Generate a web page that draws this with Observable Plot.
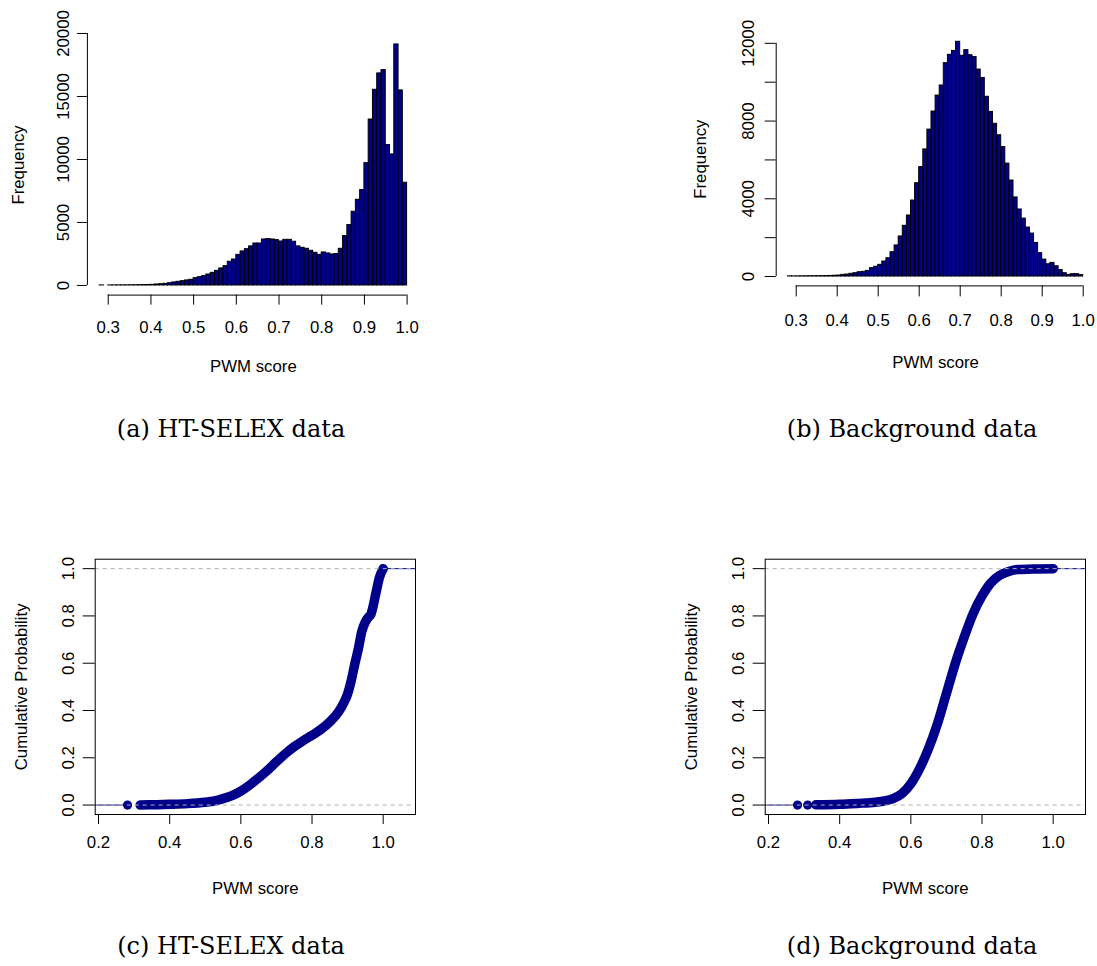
<!DOCTYPE html>
<html>
<head>
<meta charset="utf-8">
<script src="https://cdn.jsdelivr.net/npm/d3@7"></script>
<script src="https://cdn.jsdelivr.net/npm/@observablehq/plot@0.6"></script>
<style>
  body { margin: 0; background: #fff; }
  #page { position: relative; width: 1097px; height: 966px; overflow: hidden; background: #fff; }
  .panel { position: absolute; }
  .panel svg { overflow: visible; }
  .caption {
    position: absolute; width: 440px; margin-left: -220px; text-align: center;
    font-family: "DejaVu Serif", serif; font-size: 24px; color: #000; white-space: nowrap;
    line-height: 1;
  }
</style>
</head>
<body>
<div id="page"></div>
<script>
// ---- histogram bins (left edges, width 0.01) ----
const binLeft = [
  0.28, 0.29,
  0.30, 0.31, 0.32, 0.33, 0.34, 0.35, 0.36, 0.37, 0.38, 0.39,
  0.40, 0.41, 0.42, 0.43, 0.44, 0.45, 0.46, 0.47, 0.48, 0.49,
  0.50, 0.51, 0.52, 0.53, 0.54, 0.55, 0.56, 0.57, 0.58, 0.59,
  0.60, 0.61, 0.62, 0.63, 0.64, 0.65, 0.66, 0.67, 0.68, 0.69,
  0.70, 0.71, 0.72, 0.73, 0.74, 0.75, 0.76, 0.77, 0.78, 0.79,
  0.80, 0.81, 0.82, 0.83, 0.84, 0.85, 0.86, 0.87, 0.88, 0.89,
  0.90, 0.91, 0.92, 0.93, 0.94, 0.95, 0.96, 0.97, 0.98, 0.99
];
const binWidth = 0.01;

// HT-SELEX PWM score counts per bin
const selexCounts = [
  4, 0,
  4, 6, 8, 10, 12, 16, 20, 26, 32, 40,
  50, 80, 100, 130, 180, 240, 290, 340, 400, 450,
  580, 660, 740, 870, 1000, 1160, 1350, 1530, 1880, 2060,
  2430, 2700, 2880, 3100, 3330, 3330, 3650, 3680, 3650, 3600,
  3490, 3620, 3620, 3470, 3100, 2990, 2910, 2750, 2590, 2430,
  2620, 2540, 2460, 2490, 2910, 3920, 4790, 5850, 6800, 7570,
  9710, 13170, 15530, 16830, 17090, 11140, 10400, 19130, 15480, 8150
];

// Background PWM score counts per bin
const backgroundCounts = [
  8, 4,
  6, 10, 12, 15, 14, 18, 20, 26, 30, 38,
  50, 85, 100, 140, 170, 220, 240, 290, 430, 500,
  600, 770, 940, 1250, 1600, 2060, 2610, 3140, 3910, 4800,
  5630, 6540, 7560, 8490, 9310, 9830, 10980, 11410, 11610, 12080,
  11360, 11650, 11390, 11290, 10650, 10220, 9250, 8470, 7860, 7270,
  6660, 5810, 4940, 4070, 3450, 2980, 2520, 2210, 1730, 1200,
  870, 630, 700, 530, 330, 170, 85, 120, 120, 70
];

// Empirical cumulative distribution, HT-SELEX
const selexEcdfX = [0.317, 0.35, 0.40, 0.45, 0.50, 0.525, 0.55, 0.575, 0.60, 0.625, 0.65, 0.675,
  0.70, 0.725, 0.75, 0.775, 0.80, 0.825, 0.85, 0.875, 0.89, 0.90, 0.91, 0.92, 0.93, 0.94, 0.95,
  0.96, 0.965, 0.97, 0.98, 0.99, 1.00];
const selexEcdfY = [0.000, 0.001, 0.003, 0.006, 0.012, 0.017, 0.027, 0.040, 0.059, 0.085, 0.115, 0.147,
  0.183, 0.217, 0.247, 0.272, 0.295, 0.320, 0.352, 0.395, 0.435, 0.470, 0.525, 0.595, 0.660, 0.735, 0.775,
  0.797, 0.805, 0.830, 0.900, 0.965, 1.000];
const selexLowest = [0.2815];

// Empirical cumulative distribution, background
const backgroundEcdfX = [0.333, 0.40, 0.45, 0.50, 0.525, 0.55, 0.575, 0.60, 0.625, 0.65, 0.675,
  0.70, 0.725, 0.75, 0.775, 0.80, 0.825, 0.85, 0.875, 0.90, 0.95, 1.00];
const backgroundEcdfY = [0.001, 0.003, 0.007, 0.012, 0.017, 0.027, 0.048, 0.090, 0.155, 0.240, 0.345,
  0.472, 0.600, 0.710, 0.810, 0.885, 0.940, 0.972, 0.988, 0.996, 0.999, 1.000];
const backgroundLowest = [0.2815, 0.31];

// ---- axis ticks ----
const histXTicks = [0.3, 0.4, 0.5, 0.6, 0.7, 0.8, 0.9, 1.0];
const selexYTicks = [0, 5000, 10000, 15000, 20000];
const backgroundYTicks = [0, 2000, 4000, 6000, 8000, 10000, 12000];
const backgroundYLabelled = [0, 4000, 8000, 12000];
const ecdfXTicks = [0.2, 0.4, 0.6, 0.8, 1.0];
const ecdfYTicks = [0.0, 0.2, 0.4, 0.6, 0.8, 1.0];

const captions = ["(a) HT-SELEX data", "(b) Background data", "(c) HT-SELEX data", "(d) Background data"];

const BLUE = "#00008B";
const SANS = "'Liberation Sans', Arial, Helvetica, sans-serif";
const FONT_SIZE = "16.8px";
const fmt1 = d3.format(".1f");

const page = document.getElementById("page");

function place(svg, left, top) {
  const div = document.createElement("div");
  div.className = "panel";
  div.style.left = left + "px";
  div.style.top = top + "px";
  div.appendChild(svg);
  page.appendChild(div);
}

// R-style 4% axis extension
function extend([lo, hi]) {
  const p = 0.04 * (hi - lo);
  return [lo - p, hi + p];
}

function histogram(counts, o) {
  const bins = binLeft.map((x, i) => ({x1: x, x2: Math.round((x + binWidth) * 100) / 100, count: counts[i]}));
  const xDom = extend([bins[0].x1, bins[bins.length - 1].x2]);
  const yDom = extend([0, d3.max(counts)]);
  return Plot.plot({
    width: o.width, height: o.height,
    marginLeft: o.ml, marginRight: o.width - o.fr, marginTop: o.ft, marginBottom: o.height - o.fb,
    x: {domain: xDom},
    y: {domain: yDom},
    style: {fontFamily: SANS, fontSize: FONT_SIZE, background: "transparent", color: "#000"},
    marks: [
      Plot.rect(bins, {x1: "x1", x2: "x2", y1: 0, y2: "count", fill: BLUE, stroke: "#000", strokeWidth: 1}),
      Plot.ruleX([xDom[0]], {y1: o.yTicks[0], y2: o.yTicks[o.yTicks.length - 1], stroke: "#000"}),
      Plot.ruleY([yDom[0]], {x1: histXTicks[0], x2: histXTicks[histXTicks.length - 1], stroke: "#000"}),
      Plot.axisY(o.yTicks, {anchor: "left", tickSize: o.tickY, tickRotate: -90, tickPadding: o.padY,
        tickFormat: o.yFormat, label: null}),
      Plot.axisX(histXTicks, {anchor: "bottom", tickSize: o.tickX, tickPadding: o.padX, tickFormat: fmt1, label: null}),
      Plot.text(["PWM score"], {frameAnchor: "bottom", dy: o.xLabelDy, textAnchor: "middle", lineAnchor: "middle"}),
      Plot.text(["Frequency"], {frameAnchor: "left", rotate: -90, dx: o.yLabelDx, textAnchor: "middle", lineAnchor: "middle"})
    ]
  });
}

function ecdf(xs, ys, lowest, o) {
  const pts = xs.map((x, i) => ({x, y: ys[i]}));
  const kmin = d3.min([...lowest, ...xs]), kmax = d3.max(xs);
  const dr = 0.08 * (kmax - kmin);
  const xDom = extend([kmin - dr, kmax + dr]);
  const yDom = extend([0, 1]);
  return Plot.plot({
    width: o.width, height: o.height,
    marginLeft: o.ml, marginRight: o.width - o.fr, marginTop: o.ft, marginBottom: o.height - o.fb,
    x: {domain: xDom},
    y: {domain: yDom},
    style: {fontFamily: SANS, fontSize: FONT_SIZE, background: "transparent", color: "#000"},
    marks: [
      Plot.ruleY([0], {x1: xDom[0], x2: kmin, stroke: BLUE}),
      Plot.ruleY([1], {x1: kmax, x2: xDom[1], stroke: BLUE}),
      Plot.line(pts, {x: "x", y: "y", stroke: BLUE, strokeWidth: 9.5, strokeLinecap: "round",
        strokeLinejoin: "round", curve: "monotone-x"}),
      Plot.dot(lowest, {x: d => d, y: 0, r: 4.6, fill: BLUE, stroke: null}),
      Plot.ruleY([0, 1], {stroke: "#b3b3b3", strokeDasharray: "4,4"}),
      Plot.frame({stroke: "#000"}),
      Plot.axisY(ecdfYTicks, {anchor: "left", tickSize: o.tickY, tickRotate: -90, tickPadding: o.padY,
        tickFormat: fmt1, label: null}),
      Plot.axisX(ecdfXTicks, {anchor: "bottom", tickSize: o.tickX, tickPadding: o.padX, tickFormat: fmt1, label: null}),
      Plot.text(["PWM score"], {frameAnchor: "bottom", dy: o.xLabelDy, textAnchor: "middle", lineAnchor: "middle"}),
      Plot.text(["Cumulative Probability"], {frameAnchor: "left", rotate: -90, dx: o.yLabelDx,
        textAnchor: "middle", lineAnchor: "middle"})
    ]
  });
}

// (a) HT-SELEX histogram
place(histogram(selexCounts, {
  width: 440, height: 390, ml: 86.9, fr: 418.9, ft: 34.3, fb: 294.6,
  yTicks: selexYTicks, yFormat: d => String(d), tickY: 10, padY: 8, tickX: 10, padX: 15.5,
  xLabelDy: 71.5, yLabelDx: -69
}), 0, 0);

// (b) background histogram
place(histogram(backgroundCounts, {
  width: 437, height: 390, ml: 115.7, fr: 434.5, ft: 31.9, fb: 285.4,
  yTicks: backgroundYTicks, yFormat: d => backgroundYLabelled.includes(d) ? String(d) : "",
  tickY: 11, padY: 11.5, tickX: 11, padX: 17.5,
  xLabelDy: 77, yLabelDx: -76
}), 660, 0);

// (c) HT-SELEX cumulative distribution
place(ecdf(selexEcdfX, selexEcdfY, selexLowest, {
  width: 440, height: 400, ml: 94.7, fr: 415, ft: 38.7, fb: 294,
  tickY: 12, padY: 9.5, tickX: 10, padX: 11.5,
  xLabelDy: 74, yLabelDx: -74
}), 0, 520);

// (d) background cumulative distribution
place(ecdf(backgroundEcdfX, backgroundEcdfY, backgroundLowest, {
  width: 437, height: 400, ml: 104.7, fr: 425, ft: 38.7, fb: 294,
  tickY: 12, padY: 9.5, tickX: 10, padX: 11.5,
  xLabelDy: 74, yLabelDx: -74
}), 660, 520);

// sub-figure captions
[[231, 417], [912, 417], [231, 934], [912, 934]].forEach(([cx, top], i) => {
  const d = document.createElement("div");
  d.className = "caption";
  d.style.left = cx + "px";
  d.style.top = top + "px";
  d.textContent = captions[i];
  page.appendChild(d);
});
</script>
</body>
</html>
